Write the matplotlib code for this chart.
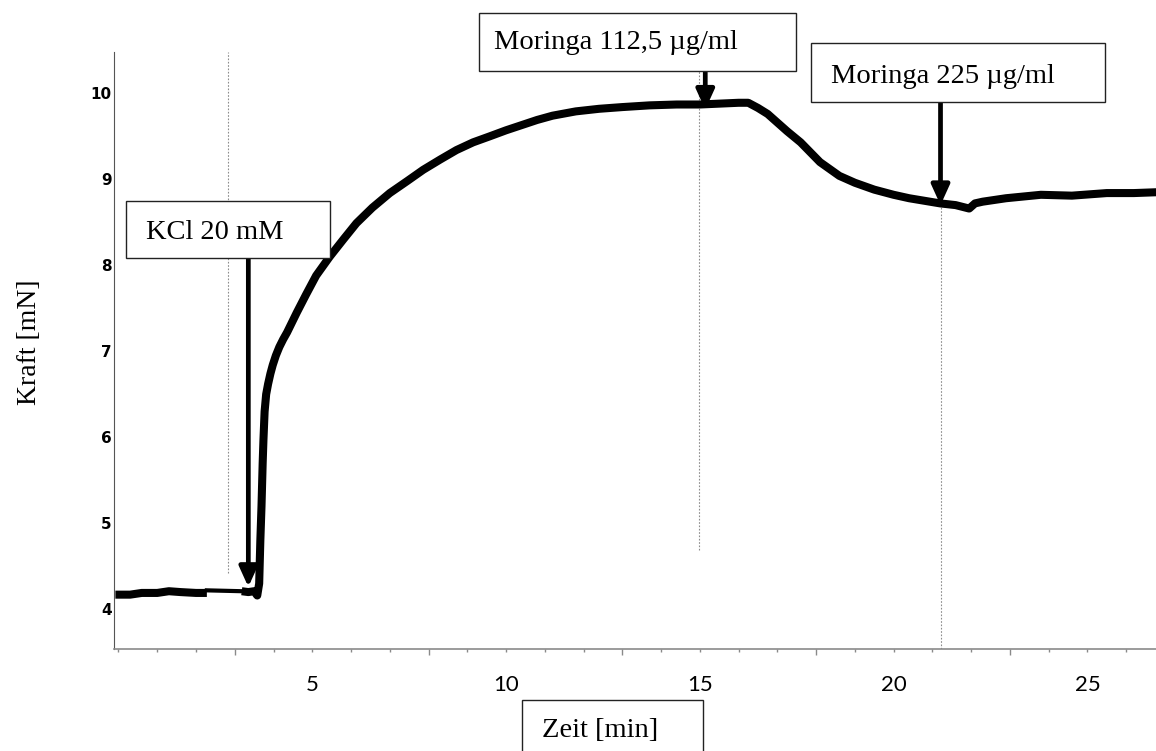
import numpy as np
import matplotlib.pyplot as plt
from matplotlib.patches import Rectangle
from matplotlib.patches import ArrowStyle
from matplotlib.ticker import FixedLocator, FuncFormatter

# Baseline before the recording gap
pre_t = [-0.08, 0.3, 0.6, 1.0, 1.3, 1.6, 2.0, 2.28]
pre_f = [4.17, 4.17, 4.19, 4.19, 4.21, 4.20, 4.19, 4.19]

# Recording after the gap (KCl contraction, Moringa relaxation)
main_t = [3.18, 3.35, 3.50, 3.58, 3.63, 3.66, 3.69, 3.72, 3.74, 3.77, 3.81,
          3.86, 3.92, 3.98, 4.06, 4.15, 4.25, 4.35, 4.60, 4.84, 5.10, 5.45,
          5.80, 6.14, 6.55, 7.00, 7.45, 7.86, 8.30, 8.72, 9.15, 9.58, 10.0,
          10.4, 10.8, 11.2, 11.8, 12.4, 13.0, 13.7, 14.4, 15.0, 15.5, 16.0,
          16.25, 16.5, 16.75, 17.0, 17.25, 17.6, 18.1, 18.6, 19.0, 19.5, 20.0,
          20.4, 20.8, 21.2, 21.6, 21.95, 22.1, 22.3, 22.9, 23.8, 24.6, 25.5,
          26.2, 26.8]
main_f = [4.21, 4.20, 4.21, 4.16, 4.30, 4.80, 5.20, 5.70, 5.97, 6.30, 6.50,
          6.62, 6.74, 6.84, 6.95, 7.05, 7.14, 7.22, 7.45, 7.66, 7.88, 8.10,
          8.30, 8.49, 8.67, 8.84, 8.98, 9.11, 9.23, 9.34, 9.43, 9.50, 9.57,
          9.63, 9.69, 9.74, 9.79, 9.82, 9.84, 9.86, 9.87, 9.87, 9.88, 9.89,
          9.89, 9.83, 9.76, 9.66, 9.56, 9.43, 9.20, 9.04, 8.96, 8.88, 8.82,
          8.78, 8.75, 8.72, 8.70, 8.66, 8.72, 8.74, 8.78, 8.82, 8.81, 8.84,
          8.84, 8.85]

# Substance additions
event_labels = ["KCl 20 mM", "Moringa 112,5 \u00b5g/ml", "Moringa 225 \u00b5g/ml"]
event_t = [3.35, 15.14, 21.21]
marker_t = [2.83, 14.98, 21.21]

x_labels = [5, 10, 15, 20, 25]
long_ticks = [3, 8, 13, 18, 23]
y_ticks = [4, 5, 6, 7, 8, 9, 10]

fig = plt.figure(figsize=(11.56, 7.51), dpi=100)
ax = fig.add_axes([114 / 1156, 1 - 649 / 751, 1 - 114 / 1156, (649 - 51.7) / 751])
ax.set_xlim(-0.116, 26.77)
ax.set_ylim(3.538, 10.484)

for s in ["top", "right"]:
    ax.spines[s].set_visible(False)
ax.spines["left"].set_color("#555555")
ax.spines["left"].set_linewidth(0.8)
ax.spines["bottom"].set_color("#8a8a8a")
ax.spines["bottom"].set_linewidth(1.2)

# x ticks: short every minute, longer ones offset by two minutes
short = [i for i in range(0, 27) if i not in long_ticks]
ax.xaxis.set_major_locator(FixedLocator(short))
ax.xaxis.set_major_formatter(FuncFormatter(lambda v, p: f"{int(v)}" if int(v) in x_labels else ""))
ax.xaxis.set_minor_locator(FixedLocator(long_ticks))
ax.tick_params(axis="x", which="major", length=2.5, width=1, color="#8a8a8a", pad=16)
ax.tick_params(axis="x", which="minor", length=4.5, width=1, color="#8a8a8a")
for lab in ax.get_xticklabels():
    lab.set_fontfamily("Lato")
    lab.set_fontsize(16)

ax.set_yticks(y_ticks)
ax.tick_params(axis="y", length=0, pad=1.5, labelsize=11)
for lab in ax.get_yticklabels():
    lab.set_fontfamily("DejaVu Sans")
    lab.set_fontweight("semibold")

# dotted markers at the addition times
marker_span = [(4.42, 10.484), (4.69, 10.26), (3.538, 8.70)]
for t, (lo, hi) in zip(marker_t, marker_span):
    ax.plot([t, t], [lo, hi], color="#8c8c8c", lw=0.8, ls=(0, (1.5, 1.5)), zorder=1)

# force trace
ax.plot(pre_t, pre_f, color="black", lw=5.8, solid_capstyle="butt", zorder=3)
ax.plot([pre_t[-1], main_t[0]], [pre_f[-1] + 0.03, main_f[0]], color="black", lw=3, zorder=3)
ax.plot(main_t, main_f, color="black", lw=5.8, solid_joinstyle="round",
        solid_capstyle="butt", zorder=3)

# label boxes (left, bottom, right, top) and arrows
boxes = [(0.19, 8.08, 5.46, 8.75), (9.30, 10.26, 17.48, 10.93), (17.86, 9.90, 25.46, 10.58)]
text_pos = [(0.71, 8.306), (9.69, 10.51), (18.38, 10.123)]
tips = [4.26, 9.81, 8.70]
style = ArrowStyle("-|>", head_length=0.75, head_width=0.34)
for lab, t, (x0, y0, x1, y1), (tx, ty), tip in zip(event_labels, event_t, boxes, text_pos, tips):
    ax.add_patch(Rectangle((x0, y0), x1 - x0, y1 - y0, facecolor="white",
                           edgecolor="#222222", lw=1, clip_on=False, zorder=5))
    ax.text(tx, ty, lab, family="Liberation Serif", fontsize=20.5, va="baseline",
            ha="left", zorder=6, clip_on=False)
    ax.annotate("", xy=(t, tip), xytext=(t, y0),
                arrowprops=dict(arrowstyle=style, lw=3.4, color="black",
                                mutation_scale=16, shrinkA=0, shrinkB=0),
                zorder=4, annotation_clip=False)

# axis titles in framed / plain serif text
ax.add_patch(Rectangle((10.41, 2.10), 15.07 - 10.41, 2.945 - 2.10, facecolor="white",
                       edgecolor="#222222", lw=1, clip_on=False, zorder=5))
ax.text(10.93, 2.512, "Zeit [min]", family="Liberation Serif", fontsize=20.5,
        va="baseline", ha="left", zorder=6, clip_on=False)
fig.text(30 / 1156, 1 - 342 / 751, "Kraft [mN]", family="Liberation Serif",
         fontsize=20, rotation=90, ha="center", va="center")

fig.savefig("out.png", dpi=100)
